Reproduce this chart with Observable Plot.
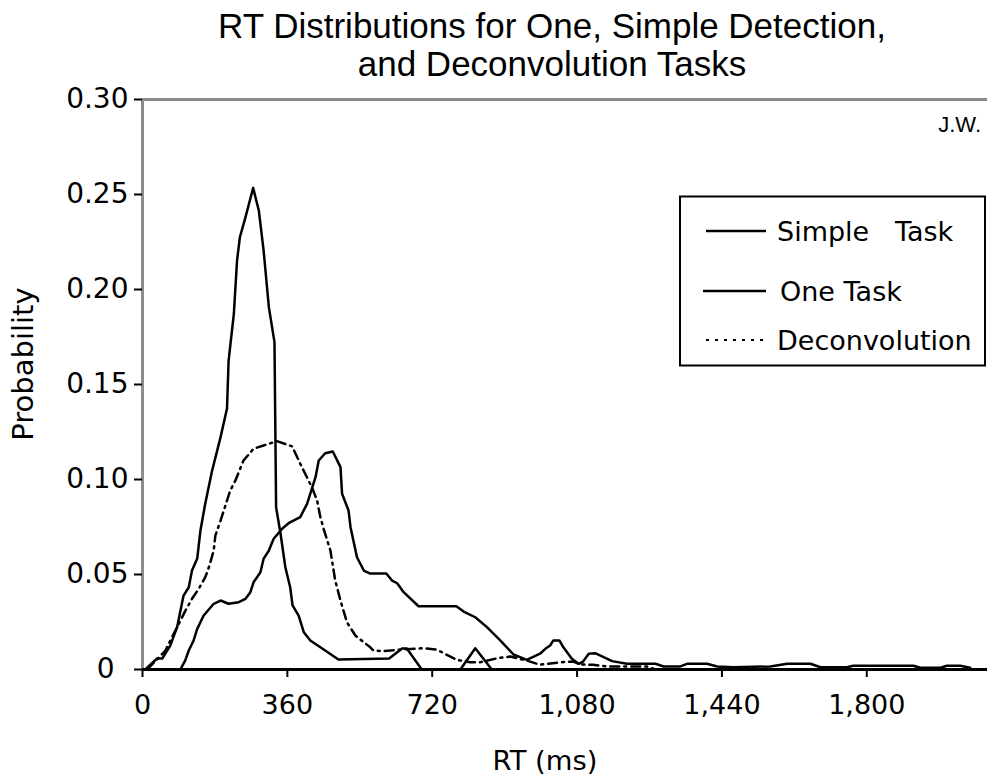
<!DOCTYPE html>
<html><head><meta charset="utf-8">
<script src="https://cdn.jsdelivr.net/npm/d3@7"></script>
<script src="https://cdn.jsdelivr.net/npm/@observablehq/plot@0.6"></script>
<style>body{margin:0;background:#fff;} #chart{position:relative;width:988px;height:776px;}</style>
</head><body><div id="chart"></div>
<script>
const seriesNames = ["Simple   Task", "One Task", "Deconvolution"];

const simpleRT = [7,36,49,69,86,102,115,123,136,144,156,173,194,210,214,227,235,242,256,275,289,301,314,328,332,343,355,367,373,388,401,417,442,487,613,645,657,694,790,827,868];
const simpleP  = [0,0.0058,0.0058,0.0126,0.0223,0.0389,0.0433,0.0521,0.0584,0.0732,0.0874,0.1047,0.1223,0.1374,0.1626,0.1872,0.2153,0.2275,0.2381,0.2535,0.2416,0.2205,0.1907,0.1723,0.0854,0.0716,0.0538,0.0433,0.0337,0.0284,0.0196,0.0153,0.0117,0.0053,0.0058,0.011,0.011,0,0,0.0112,0];

const oneRT = [94,106,115,127,136,152,177,194,214,239,256,268,276,293,301,314,326,347,363,392,409,430,438,454,473,492,496,512,517,533,550,566,606,620,633,649,686,780,798,827,856,889,922,955,988,1001,1013,1021,1036,1046,1067,1084,1095,1109,1125,1167,1204,1275,1295,1337,1353,1403,1428,1468,1560,1602,1660,1685,1751,1766,1916,1933,1983,1999,2032,2057];
const oneP  = [0,0.0047,0.01,0.0153,0.0214,0.0284,0.0346,0.0363,0.0346,0.0354,0.0372,0.0407,0.0459,0.0512,0.0583,0.0626,0.0688,0.0741,0.077,0.0802,0.0872,0.1012,0.11,0.1138,0.1147,0.1065,0.0925,0.0837,0.0749,0.0591,0.0521,0.0505,0.0505,0.0468,0.0454,0.0407,0.0333,0.0333,0.0305,0.0275,0.0223,0.0153,0.0079,0.0051,0.0083,0.0109,0.0126,0.0153,0.0153,0.0117,0.0056,0.003,0.0042,0.0083,0.0086,0.0044,0.003,0.003,0.0016,0.0016,0.003,0.003,0.0016,0.0012,0.0016,0.003,0.003,0.0012,0.0012,0.002,0.002,0.0009,0.0009,0.002,0.002,0.0009];

const deconRT = [12,57,86,107,123,140,156,165,177,181,194,210,218,231,251,276,301,334,372,392,421,434,442,450,467,479,492,508,529,541,566,574,598,641,698,732,781,814,839,881,914,955,988,1038,1071,1087,1120,1154,1253,1275];
const deconP  = [0,0.01,0.0223,0.0311,0.0372,0.0425,0.0486,0.0538,0.0626,0.0705,0.0784,0.0889,0.0942,0.0995,0.11,0.1162,0.1179,0.1202,0.1174,0.1083,0.0959,0.0889,0.0802,0.0741,0.0626,0.0468,0.0363,0.0249,0.0179,0.0158,0.0117,0.01,0.0096,0.0105,0.0112,0.0104,0.0051,0.0038,0.0038,0.0059,0.0068,0.0047,0.0025,0.0038,0.0042,0.0026,0.0025,0.0016,0.0016,0];

const xTicks = [0, 360, 720, 1080, 1440, 1800];
const yTicks = [0, 0.05, 0.10, 0.15, 0.20, 0.25, 0.30];
const titleLines = ["RT Distributions for One, Simple Detection,", "and Deconvolution Tasks"];
const xLabel = "RT (ms)";
const yLabel = "Probability";
const credit = "J.W.";

const rows = (rt, p) => rt.map((d, i) => ({rt: d, p: p[i]}));
const simple = rows(simpleRT, simpleP);
const one = rows(oneRT, oneP);
const decon = rows(deconRT, deconP);

const W = 988, H = 776;
const plot = Plot.plot({
  width: W, height: H,
  marginTop: 99, marginBottom: 107, marginLeft: 142, marginRight: 1,
  x: {domain: [0, 2100]},
  y: {domain: [0, 0.30]},
  style: {fontFamily: "'DejaVu Sans', Verdana, sans-serif", background: "white", color: "black", overflow: "visible"},
  marks: [
    Plot.ruleY([0.30], {stroke: "#8c8c8c", strokeWidth: 3}),
    Plot.ruleX([0], {stroke: "#8c8c8c", strokeWidth: 3}),
    Plot.line(decon, {x: "rt", y: "p", stroke: "black", strokeWidth: 2.5, strokeDasharray: "9,5,2,5"}),
    Plot.line(one, {x: "rt", y: "p", stroke: "black", strokeWidth: 2.5, strokeLinejoin: "round"}),
    Plot.line(simple, {x: "rt", y: "p", stroke: "black", strokeWidth: 2.5, strokeLinejoin: "round"}),
    Plot.ruleY([0], {stroke: "black", strokeWidth: 3}),
    Plot.axisY({ticks: yTicks, tickFormat: d => d === 0 ? "0\u2002" : d.toFixed(2), tickSize: 8, tickPadding: 6, fontSize: 28, strokeWidth: 2, label: null}),
    Plot.axisX({ticks: xTicks, tickFormat: d3.format(","), tickSize: 8, tickPadding: 17, fontSize: 27, strokeWidth: 2, label: null})
  ]
});

const svg = d3.select(plot);
const sans = "'Liberation Sans', Arial, sans-serif";
const verd = "'DejaVu Sans', Verdana, sans-serif";
svg.append("text").attr("x", 552).attr("y", 38).attr("text-anchor", "middle")
  .attr("font-family", sans).attr("font-size", 35).attr("fill", "black").text(titleLines[0]);
svg.append("text").attr("x", 552).attr("y", 75.7).attr("text-anchor", "middle")
  .attr("font-family", sans).attr("font-size", 35).attr("fill", "black").text(titleLines[1]);
svg.append("text").attr("x", 981).attr("y", 132).attr("text-anchor", "end")
  .attr("font-family", sans).attr("font-size", 22).attr("fill", "black").text(credit);
svg.append("text").attr("x", 545).attr("y", 770).attr("text-anchor", "middle")
  .attr("font-family", verd).attr("font-size", 27.4).attr("fill", "black").text(xLabel);
svg.append("text").attr("transform", "translate(33,364) rotate(-90)").attr("text-anchor", "middle")
  .attr("font-family", verd).attr("font-size", 29).attr("fill", "black").text(yLabel);

// legend
const lg = svg.append("g");
lg.append("rect").attr("x", 680).attr("y", 196.5).attr("width", 305).attr("height", 169)
  .attr("fill", "white").attr("stroke", "black").attr("stroke-width", 2);
const items = [
  {name: seriesNames[0], x1: 706, tx: 777, y: 231, dash: null},
  {name: seriesNames[1], x1: 703, tx: 780, y: 291, dash: null},
  {name: seriesNames[2], x1: 706, tx: 777, y: 340, dash: "3,6"}
];
for (const it of items) {
  lg.append("line").attr("x1", it.x1).attr("x2", 766).attr("y1", it.y).attr("y2", it.y)
    .attr("stroke", "black").attr("stroke-width", it.dash ? 2 : 2.5).attr("stroke-dasharray", it.dash);
  lg.append("text").attr("x", it.tx).attr("y", it.y + 10).attr("text-anchor", "start")
    .attr("font-family", verd).attr("font-size", 27)
    .attr("fill", "black").attr("xml:space", "preserve").style("white-space", "pre").text(it.name);
}

document.getElementById("chart").append(plot);
</script>
</body></html>
